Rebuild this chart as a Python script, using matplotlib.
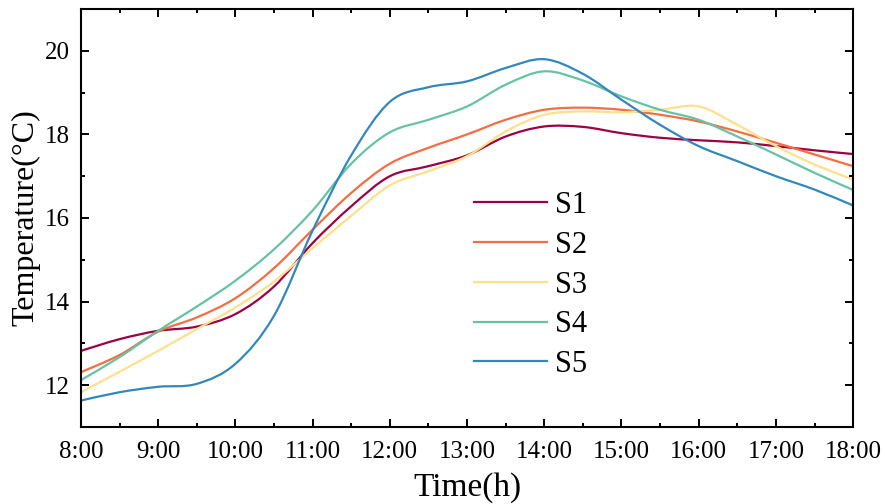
import numpy as np
import matplotlib
matplotlib.use("Agg")
import matplotlib.pyplot as plt
from matplotlib.path import Path
from matplotlib.patches import PathPatch
from matplotlib.lines import Line2D
from matplotlib.ticker import MultipleLocator, FixedLocator

# ---------------------------------------------------------------------------
# Data — temperatures, every 30 min from 8:00 to 18:00
# ---------------------------------------------------------------------------
HOURS = np.arange(8.0, 18.01, 0.5)
TICK_HOURS = np.arange(8, 19, 1)
TICK_LABELS = [f"{h}:00" for h in TICK_HOURS]
SERIES_NAMES = ["S1", "S2", "S3", "S4", "S5"]

S1 = [12.82, 13.10, 13.30, 13.40, 13.70, 14.36, 15.40, 16.28, 17.00, 17.24, 17.50,
      17.95, 18.19, 18.18, 18.03, 17.92, 17.86, 17.81, 17.72, 17.62, 17.53]
S2 = [12.31, 12.72, 13.28, 13.62, 14.08, 14.80, 15.72, 16.60, 17.30, 17.68, 18.00,
      18.35, 18.59, 18.64, 18.59, 18.47, 18.31, 18.07, 17.80, 17.52, 17.24]
S3 = [11.83, 12.32, 12.82, 13.34, 13.86, 14.48, 15.28, 16.05, 16.78, 17.12, 17.48,
      18.07, 18.47, 18.55, 18.53, 18.59, 18.67, 18.23, 17.72, 17.28, 16.92]
S4 = [12.12, 12.67, 13.30, 13.88, 14.50, 15.25, 16.18, 17.30, 18.05, 18.35, 18.67,
      19.19, 19.51, 19.29, 18.91, 18.59, 18.35, 17.95, 17.52, 17.08, 16.67]
S5 = [11.63, 11.83, 11.96, 12.03, 12.51, 13.66, 15.70, 17.50, 18.78, 19.13, 19.27,
      19.59, 19.80, 19.45, 18.83, 18.23, 17.72, 17.36, 17.00, 16.68, 16.30]

COLORS = ["#9e0142", "#f46d43", "#fee08b", "#66c2a5", "#3288bd"]
LINE_WIDTH = 1.6


def spline_path(x, y):
    """Catmull-Rom style Bezier path through the data points (spline connection)."""
    pts = np.column_stack([x, y])
    ext = np.vstack([pts[0], pts, pts[-1]])
    verts = [pts[0]]
    codes = [Path.MOVETO]
    for i in range(len(pts) - 1):
        p0, p1, p2, p3 = ext[i], ext[i + 1], ext[i + 2], ext[i + 3]
        verts += [p1 + (p2 - p0) / 6.0, p2 - (p3 - p1) / 6.0, p2]
        codes += [Path.CURVE4] * 3
    return Path(verts, codes)


plt.rcParams["font.family"] = ["Liberation Serif", "DejaVu Serif"]

fig = plt.figure(figsize=(8.85, 5.04), dpi=100)
ax = fig.add_axes([0.0915, 0.153, 0.8725, 0.829])

handles = []
for name, values, color in zip(SERIES_NAMES, [S1, S2, S3, S4, S5], COLORS):
    ax.add_patch(PathPatch(spline_path(HOURS, np.asarray(values)), fill=False,
                           edgecolor=color, linewidth=LINE_WIDTH))
    handles.append(Line2D([], [], color=color, linewidth=LINE_WIDTH, label=name))

ax.set_xlim(8, 18)
ax.set_ylim(11, 21)
ax.xaxis.set_major_locator(FixedLocator(TICK_HOURS))
ax.set_xticklabels(TICK_LABELS)
ax.xaxis.set_minor_locator(MultipleLocator(0.5))
ax.set_yticks([12, 14, 16, 18, 20])
ax.yaxis.set_minor_locator(MultipleLocator(1))

ax.tick_params(which="both", direction="in", top=True, right=True,
               width=1.4, labelsize=18)
ax.tick_params(axis="x", which="major", length=6, pad=10)
ax.tick_params(axis="y", which="major", length=6, pad=8)
ax.tick_params(which="minor", length=3)
for spine in ax.spines.values():
    spine.set_linewidth(1.5)

ax.set_xlabel("Time(h)", fontsize=24, labelpad=7)
ax.set_ylabel("Temperature(°C)", fontsize=23, labelpad=3)

ax.legend(handles=handles, loc="upper left", bbox_to_anchor=(0.473, 0.63),
          frameon=False, fontsize=22, handlelength=2.4, handletextpad=0.25,
          labelspacing=0.35)

fig.savefig("out.png", dpi=100)
